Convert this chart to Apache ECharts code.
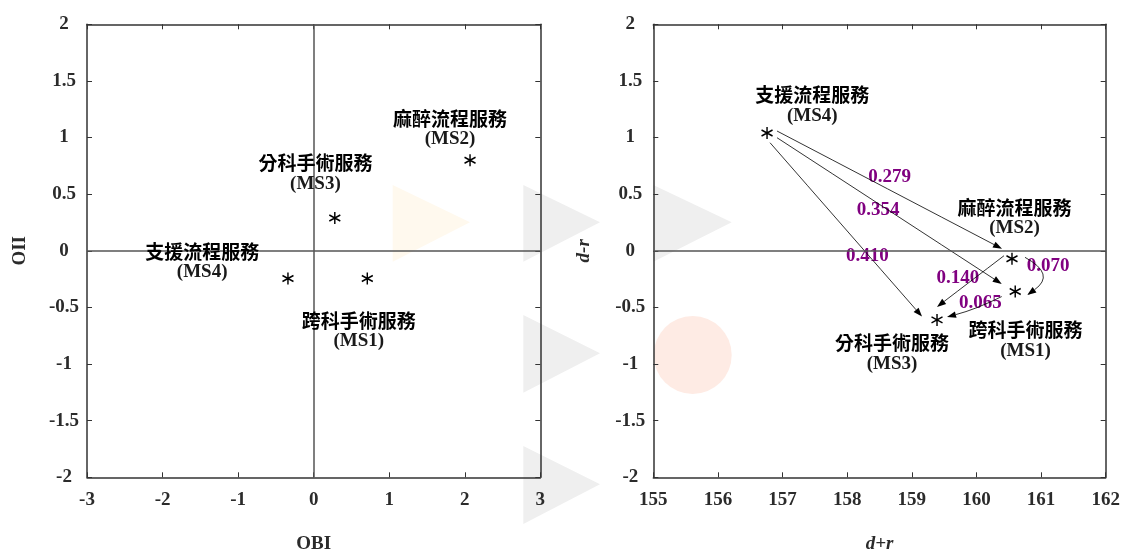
<!DOCTYPE html>
<html><head><meta charset="utf-8">
<script src="https://cdn.jsdelivr.net/npm/echarts@6/dist/echarts.min.js"></script>
<style>html,body{margin:0;padding:0;background:#fff}#c{width:1121px;height:552px}</style>
</head><body><div id="c"></div>
<script>
// ---- data ----
const codes = ['MS1', 'MS2', 'MS3', 'MS4'];
const services = ['跨科手術服務', '麻醉流程服務', '分科手術服務', '支援流程服務'];
const obi = [0.71, 2.07, 0.28, -0.34];
const oii = [-0.245, 0.80, 0.29, -0.245];
const dPlusR = [160.60, 160.55, 159.39, 156.76];
const dMinusR = [-0.36, -0.07, -0.61, 1.04];
const edgeFrom = ['MS4', 'MS4', 'MS4', 'MS2', 'MS2', 'MS1'];
const edgeTo = ['MS2', 'MS1', 'MS3', 'MS3', 'MS1', 'MS3'];
const edgeValues = ['0.279', '0.354', '0.410', '0.140', '0.070', '0.065'];

// ---- annotation layout (pixel offsets) ----
const leftLabelOffset = { MS1: [-8.5, 52.3], MS2: [-20, -31.4], MS3: [-19.4, -44.7], MS4: [-85.8, -16.5] };
const rightLabelOffset = { MS1: [10.3, 49.2], MS2: [2.6, -40.7], MS3: [-45, 33.7], MS4: [45.3, -27.5] };
const edgeLayout = [
  { s: [10, -2], e: [-10, -10], bend: 0, t: 0.5, l: [0, -13] },
  { s: [10, 4.7], e: [-13.5, -7.6], bend: 0, t: 0.45, l: [0, 7] },
  { s: [3, 9.7], e: [-15, -3.3], bend: 0, t: 0.64, l: [0, 2] },
  { s: [-8, -3], e: [0, -13], bend: 0, t: 0.69, l: [0, -13] },
  { s: [13, -1.4], e: [12, 3.4], bend: 30, t: 0.5, l: [7, -9] },
  { s: [-13.5, 5], e: [10, -3], bend: 3, t: 0.4, l: [0, -3] }
];

const SERIF = '"Liberation Serif", "Times New Roman", serif';
const CJK = '"Noto Sans CJK TC", "Noto Sans CJK SC", sans-serif';
const AXIS_COLOR = '#333';
const TEXT_COLOR = '#2b2b2b';
const asterisk = 'path://M0,-6L0,6M-5.2,-3L5.2,3M-5.2,3L5.2,-3';

const gridTop = 24.3, gridBottom = 552 - 477.3;
const grids = [
  { left: 87, right: 1121 - 540.3, top: gridTop, bottom: gridBottom, containLabel: false, outerBoundsMode: 'none' },
  { left: 653.3, right: 1121 - 1105.7, top: gridTop, bottom: gridBottom, containLabel: false, outerBoundsMode: 'none' }
];

const tickFont = { color: TEXT_COLOR, fontFamily: SERIF, fontWeight: 'bold', fontSize: 19 };
function mainAxis(extra) {
  return Object.assign({
    type: 'value',
    axisLine: { show: true, onZero: false, lineStyle: { color: AXIS_COLOR, width: 1.5 } },
    axisTick: { show: true, inside: true, length: 5, lineStyle: { color: AXIS_COLOR, width: 1 } },
    axisLabel: Object.assign({ show: true }, tickFont),
    splitLine: { show: false },
    nameTextStyle: { color: TEXT_COLOR, fontFamily: SERIF, fontWeight: 'bold', fontSize: 19 }
  }, extra);
}
function frameAxis(extra) {
  return Object.assign({
    type: 'value',
    axisLine: { show: true, onZero: false, lineStyle: { color: AXIS_COLOR, width: 1.5 } },
    axisTick: { show: true, inside: true, length: 5, lineStyle: { color: AXIS_COLOR, width: 1 } },
    axisLabel: { show: false },
    splitLine: { show: false }
  }, extra);
}
const italicName = { color: TEXT_COLOR, fontFamily: SERIF, fontWeight: 'bold', fontStyle: 'italic', fontSize: 19 };

const xAxes = [
  mainAxis({ gridIndex: 0, position: 'bottom', min: -3, max: 3, interval: 1, name: 'OBI', nameLocation: 'middle', nameGap: 57,
    axisLabel: Object.assign({ margin: 13 }, tickFont) }),
  frameAxis({ gridIndex: 0, position: 'top', min: -3, max: 3, interval: 1 }),
  mainAxis({ gridIndex: 1, position: 'bottom', min: 155, max: 162, interval: 1, name: 'd+r', nameLocation: 'middle', nameGap: 57,
    nameTextStyle: italicName, axisLabel: Object.assign({ margin: 13 }, tickFont) }),
  frameAxis({ gridIndex: 1, position: 'top', min: 155, max: 162, interval: 1 })
];
const yAxes = [
  mainAxis({ gridIndex: 0, position: 'left', min: -2, max: 2, interval: 0.5, name: 'OII', nameLocation: 'middle', nameGap: 57,
    axisLabel: Object.assign({ margin: 23, align: 'center' }, tickFont) }),
  frameAxis({ gridIndex: 0, position: 'right', min: -2, max: 2, interval: 0.5 }),
  mainAxis({ gridIndex: 1, position: 'left', min: -2, max: 2, interval: 0.5, name: 'd-r', nameLocation: 'middle', nameGap: 60,
    nameTextStyle: italicName, axisLabel: Object.assign({ margin: 23, align: 'center' }, tickFont) }),
  frameAxis({ gridIndex: 1, position: 'right', min: -2, max: 2, interval: 0.5 })
];

const richLabel = {
  a: { fontFamily: CJK, fontWeight: 'bold', fontSize: 19, lineHeight: 21, color: '#000' },
  b: { fontFamily: SERIF, fontWeight: 'bold', fontSize: 19, lineHeight: 21, color: '#1a1a1a' }
};
function scatterSeries(xi, yi, xs, ys, offsets, markData) {
  return {
    type: 'scatter', xAxisIndex: xi, yAxisIndex: yi,
    symbol: asterisk, symbolSize: [11, 12],
    itemStyle: { color: 'rgba(0,0,0,0)', borderColor: '#000', borderWidth: 1.5, opacity: 1 },
    label: {
      show: true, position: 'inside', align: 'center', verticalAlign: 'middle',
      formatter: p => `{a|${services[p.dataIndex]}}\n{b|(${codes[p.dataIndex]})}`,
      rich: richLabel
    },
    labelLayout: p => {
      const o = offsets[codes[p.dataIndex]];
      return { dx: o[0], dy: o[1], hideOverlap: false, moveOverlap: null };
    },
    emphasis: { disabled: true },
    data: codes.map((c, i) => [xs[i], ys[i]]),
    markLine: {
      silent: true, symbol: ['none', 'none'], label: { show: false },
      lineStyle: { color: '#555', width: 1.5, type: 'solid' },
      animation: false,
      data: markData
    },
    z: 5
  };
}

function renderArrow(params, api) {
  const i = params.dataIndex;
  const a = codes.indexOf(edgeFrom[i]), b = codes.indexOf(edgeTo[i]);
  const pa = api.coord([dPlusR[a], dMinusR[a]]);
  const pb = api.coord([dPlusR[b], dMinusR[b]]);
  const L = edgeLayout[i];
  const s = [pa[0] + L.s[0], pa[1] + L.s[1]];
  const e = [pb[0] + L.e[0], pb[1] + L.e[1]];
  const dx = e[0] - s[0], dy = e[1] - s[1], len = Math.hypot(dx, dy);
  const nx = dy / len, ny = -dx / len;
  const c = [(s[0] + e[0]) / 2 + nx * L.bend, (s[1] + e[1]) / 2 + ny * L.bend];
  let tx = e[0] - c[0], ty = e[1] - c[1];
  const tl = Math.hypot(tx, ty); tx /= tl; ty /= tl;
  const AL = 9, AW = 3.3;
  const base = [e[0] - tx * AL, e[1] - ty * AL];
  const head = [[e[0], e[1]], [base[0] - ty * AW, base[1] + tx * AW], [base[0] + ty * AW, base[1] - tx * AW]];
  const t = L.t;
  const q = [
    (1 - t) * (1 - t) * s[0] + 2 * t * (1 - t) * c[0] + t * t * e[0],
    (1 - t) * (1 - t) * s[1] + 2 * t * (1 - t) * c[1] + t * t * e[1]
  ];
  return {
    type: 'group',
    children: [
      { type: 'text', x: q[0] + L.l[0], y: q[1] + L.l[1], z2: 1,
        style: { text: edgeValues[i], fill: '#800080', font: 'bold 19px ' + SERIF, align: 'center', verticalAlign: 'middle' } },
      { type: 'bezierCurve', z2: 2,
        shape: { x1: s[0], y1: s[1], x2: base[0], y2: base[1], cpx1: c[0], cpy1: c[1] },
        style: { fill: 'none', stroke: '#000', lineWidth: 0.8 } },
      { type: 'polygon', z2: 2, shape: { points: head }, style: { fill: '#000' } }
    ]
  };
}

const deco = [
  { type: 'polygon', shape: { points: [[392.7, 185], [392.7, 261.7], [470, 222.3]] }, style: { fill: '#fff9ee' } },
  { type: 'polygon', shape: { points: [[523.3, 185], [523.3, 261.7], [600, 222.3]] }, style: { fill: '#efefef' } },
  { type: 'polygon', shape: { points: [[523.3, 315], [523.3, 392.7], [600, 353.3]] }, style: { fill: '#efefef' } },
  { type: 'polygon', shape: { points: [[523.3, 446], [523.3, 524], [600, 484.3]] }, style: { fill: '#efefef' } },
  { type: 'polygon', shape: { points: [[653.3, 185], [653.3, 261.7], [731.7, 222.3]] }, style: { fill: '#efefef' } },
  { type: 'circle', shape: { cx: 692.7, cy: 355, r: 39 }, style: { fill: '#feebe4' } }
].map(g => Object.assign(g, { z: -10, silent: true }));

const chart = echarts.init(document.getElementById('c'), null, { renderer: 'canvas' });
chart.setOption({
  animation: false,
  backgroundColor: '#fff',
  graphic: deco,
  grid: grids,
  xAxis: xAxes,
  yAxis: yAxes,
  series: [
    scatterSeries(0, 0, obi, oii, leftLabelOffset, [{ xAxis: 0 }, { yAxis: 0 }]),
    scatterSeries(2, 2, dPlusR, dMinusR, rightLabelOffset, [{ yAxis: 0 }]),
    {
      type: 'custom', coordinateSystem: 'cartesian2d', xAxisIndex: 2, yAxisIndex: 2,
      renderItem: renderArrow,
      data: edgeValues.map((v, i) => [dPlusR[codes.indexOf(edgeFrom[i])], dMinusR[codes.indexOf(edgeFrom[i])]]),
      silent: true, z: 4
    }
  ]
});
</script>
</body></html>
